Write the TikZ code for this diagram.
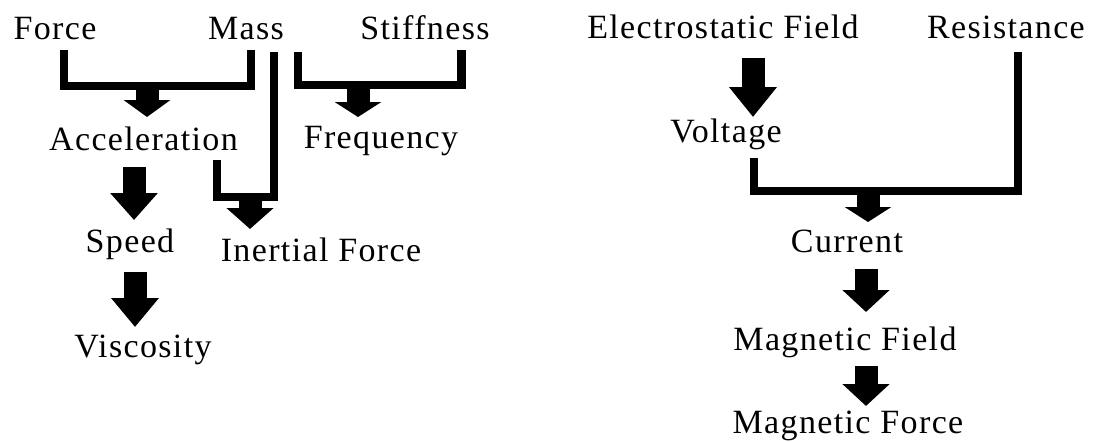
\documentclass[tikz,border=0pt]{standalone}
\usepackage{fontspec}
\setmainfont{Liberation Serif}[LetterSpace=4]
\usetikzlibrary{arrows.meta}
\begin{document}
\begin{tikzpicture}[x=1pt,y=-1pt,
  lbl/.style={anchor=base, inner sep=0pt, font=\fontsize{34}{40}\selectfont},
  wire/.style={line width=8.5pt, line join=miter, line cap=butt},
  bigarrow/.style={line width=23pt, -{Triangle[width=46pt,length=#1]}}]
\useasboundingbox (0,0) rectangle (1096,442);
% labels
\node[lbl] (force) at (55,39) {Force};
\node[lbl] (mass) at (246,39) {Mass};
\node[lbl] (stiff) at (425,39) {Stiffness};
\node[lbl] (accel) at (143.5,150) {Acceleration};
\node[lbl] (freq) at (381,148) {Frequency};
\node[lbl] (speed) at (130,252) {Speed};
\node[lbl] (inert) at (321,261) {Inertial Force};
\node[lbl] (visc) at (143,357) {Viscosity};
\node[lbl] (efield) at (723,38) {Electrostatic Field};
\node[lbl] (resist) at (1006,38) {Resistance};
\node[lbl] (volt) at (726,142) {Voltage};
\node[lbl] (curr) at (847,252) {Current};
\node[lbl] (mfield) at (845,350) {Magnetic Field};
\node[lbl] (mforce) at (848,433) {Magnetic Force};
% coordinates
\coordinate (f1) at (64,50);
\coordinate (f2) at (64,86);
\coordinate (m2) at (251,86);
\coordinate (m1) at (251,50);
\coordinate (a1) at (147,90);
\coordinate (a2) at (147,117);
\coordinate (l1) at (274,52);
\coordinate (l2) at (274,197);
\coordinate (l3) at (217,197);
\coordinate (l4) at (217,160);
\coordinate (i1) at (250,201);
\coordinate (i2) at (250,229);
\coordinate (s1) at (298,52);
\coordinate (s2) at (298,85);
\coordinate (s3) at (461.5,85);
\coordinate (s4) at (461.5,50);
\coordinate (q1) at (358,89);
\coordinate (q2) at (358,117);
\coordinate (sp1) at (134,167);
\coordinate (sp2) at (134,220);
\coordinate (v1) at (135,272);
\coordinate (v2) at (135,327);
\coordinate (e1) at (753,58);
\coordinate (e2) at (753,117);
\coordinate (r1) at (1018,52);
\coordinate (r2) at (1018,191);
\coordinate (r3) at (754,191);
\coordinate (r4) at (754,158);
\coordinate (c1) at (868,195);
\coordinate (c2) at (868,222);
\coordinate (g1) at (866,269);
\coordinate (g2) at (866,312);
\coordinate (h1) at (866,366);
\coordinate (h2) at (866,406);
% connectors
\draw[wire] (f1) -- (f2) -- (m2) -- (m1);
\draw[bigarrow=17pt] (a1) -- (a2);
\draw[wire] (l1) -- (l2) -- (l3) -- (l4);
\draw[bigarrow=21pt] (i1) -- (i2);
\draw[wire] (s1) -- (s2) -- (s3) -- (s4);
\draw[bigarrow=15pt] (q1) -- (q2);
\draw[bigarrow=27pt] (sp1) -- (sp2);
\draw[bigarrow=29pt] (v1) -- (v2);
\draw[bigarrow=30pt] (e1) -- (e2);
\draw[wire] (r1) -- (r2) -- (r3) -- (r4);
\draw[bigarrow=15pt] (c1) -- (c2);
\draw[bigarrow=22pt] (g1) -- (g2);
\draw[bigarrow=22pt] (h1) -- (h2);
\end{tikzpicture}
\end{document}
